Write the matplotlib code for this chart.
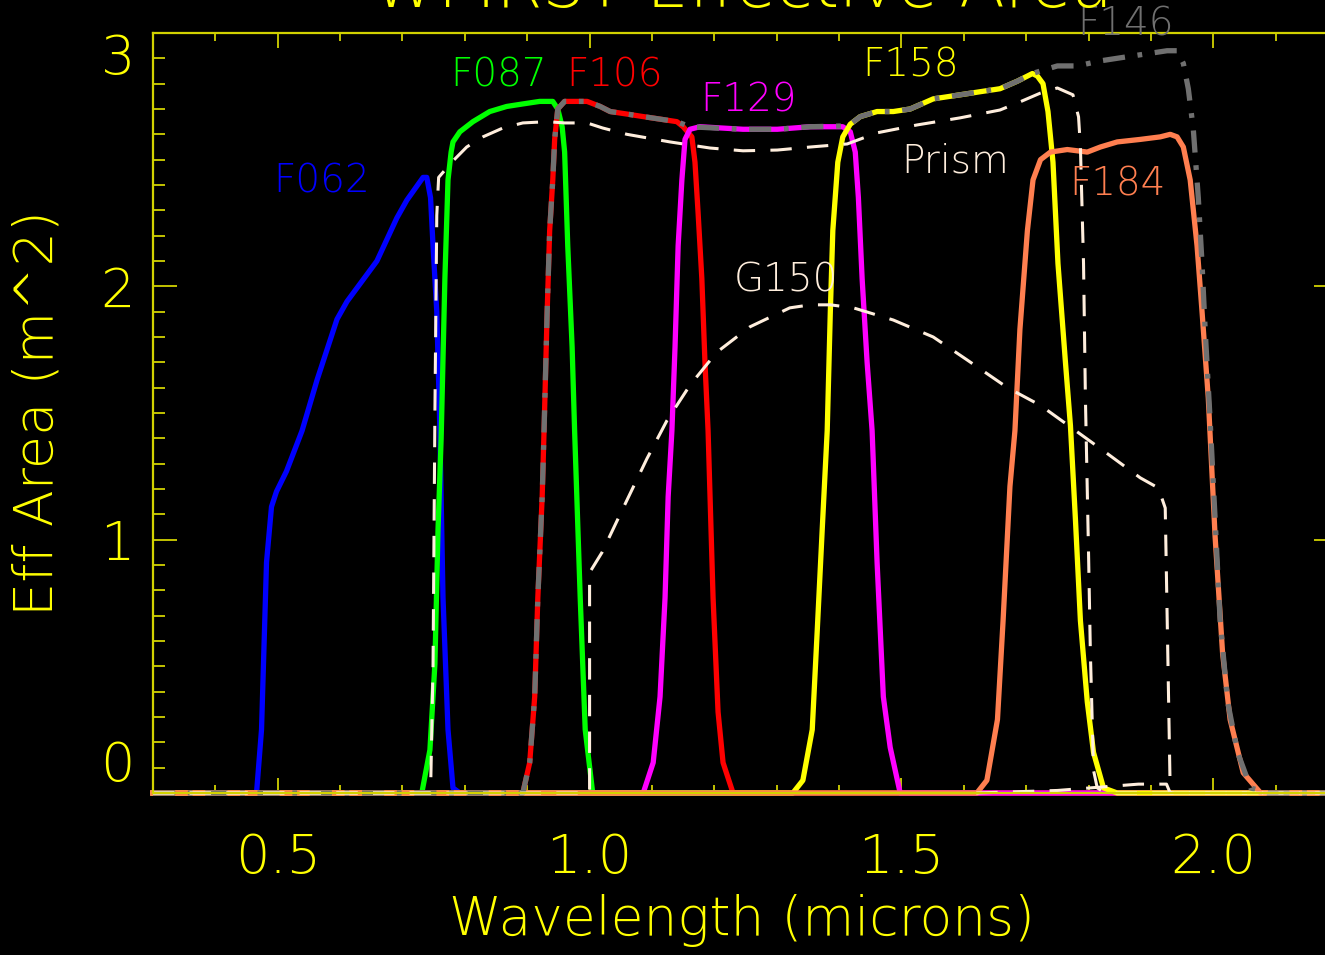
import matplotlib
matplotlib.use("Agg")
import matplotlib.pyplot as plt
from matplotlib.ticker import MultipleLocator

# -------- DATA -------- #
f062_wl = [0.466, 0.474, 0.482, 0.490, 0.498, 0.514, 0.539, 0.563, 0.595, 0.611, 0.644, 0.659,
           0.691, 0.707, 0.733, 0.739, 0.745, 0.749, 0.755, 0.760, 0.765, 0.773, 0.781, 0.792]
f062_ea = [0.0, 0.25, 0.91, 1.13, 1.19, 1.27, 1.43, 1.63, 1.87, 1.94, 2.05, 2.10,
           2.27, 2.34, 2.43, 2.43, 2.35, 2.16, 1.90, 1.43, 0.77, 0.25, 0.02, 0.0]

f087_wl = [0.731, 0.744, 0.752, 0.757, 0.762, 0.768, 0.773, 0.778, 0.781, 0.792, 0.813, 0.840,
           0.867, 0.893, 0.920, 0.941, 0.949, 0.956, 0.960, 0.965, 0.972, 0.976, 0.985, 0.993, 1.005]
f087_ea = [0.0, 0.17, 0.51, 1.04, 1.40, 2.03, 2.42, 2.53, 2.57, 2.61, 2.65, 2.69,
           2.71, 2.72, 2.73, 2.73, 2.70, 2.63, 2.53, 2.16, 1.76, 1.43, 0.77, 0.25, 0.0]

f106_wl = [0.893, 0.904, 0.912, 0.917, 0.924, 0.927, 0.932, 0.936, 0.941, 0.944, 0.949, 0.960,
           0.973, 0.996, 1.017, 1.033, 1.060, 1.086, 1.113, 1.140, 1.150, 1.164, 1.169, 1.174,
           1.180, 1.185, 1.190, 1.198, 1.206, 1.214, 1.230]
f106_ea = [0.0, 0.12, 0.38, 0.77, 1.17, 1.43, 1.90, 2.22, 2.42, 2.58, 2.70, 2.73,
           2.73, 2.73, 2.71, 2.69, 2.68, 2.67, 2.66, 2.65, 2.63, 2.59, 2.49, 2.29,
           2.03, 1.70, 1.43, 0.77, 0.32, 0.12, 0.0]

f129_wl = [1.086, 1.102, 1.113, 1.121, 1.126, 1.132, 1.137, 1.142, 1.148, 1.153, 1.161, 1.177,
           1.246, 1.301, 1.354, 1.406, 1.418, 1.426, 1.431, 1.437, 1.445, 1.453, 1.461, 1.471,
           1.482, 1.498]
f129_ea = [0.0, 0.12, 0.38, 0.77, 1.17, 1.43, 1.76, 2.16, 2.42, 2.58, 2.62, 2.63,
           2.62, 2.62, 2.63, 2.63, 2.61, 2.53, 2.35, 2.03, 1.70, 1.43, 0.91, 0.38,
           0.18, 0.0]

f158_wl = [1.326, 1.342, 1.357, 1.365, 1.373, 1.381, 1.386, 1.390, 1.398, 1.406, 1.418, 1.434,
           1.461, 1.487, 1.514, 1.551, 1.578, 1.631, 1.658, 1.686, 1.710, 1.718, 1.727, 1.735,
           1.743, 1.751, 1.763, 1.771, 1.779, 1.787, 1.798, 1.808, 1.824, 1.846]
f158_ea = [0.0, 0.05, 0.25, 0.64, 1.04, 1.43, 1.90, 2.22, 2.49, 2.59, 2.64, 2.67,
           2.69, 2.69, 2.70, 2.74, 2.75, 2.77, 2.78, 2.81, 2.84, 2.83, 2.80, 2.69,
           2.49, 2.09, 1.70, 1.45, 1.08, 0.68, 0.36, 0.16, 0.02, 0.0]

f184_wl = [1.621, 1.637, 1.654, 1.663, 1.674, 1.682, 1.690, 1.702, 1.711, 1.723, 1.739, 1.766,
           1.798, 1.819, 1.846, 1.883, 1.915, 1.931, 1.942, 1.952, 1.963, 1.974, 1.982, 1.992,
           1.995, 2.003, 2.015, 2.027, 2.048, 2.076]
f184_ea = [0.0, 0.05, 0.29, 0.68, 1.21, 1.43, 1.83, 2.22, 2.42, 2.50, 2.53, 2.54,
           2.53, 2.55, 2.57, 2.58, 2.59, 2.60, 2.59, 2.55, 2.42, 2.16, 1.90, 1.56,
           1.41, 1.01, 0.55, 0.29, 0.08, 0.0]

f146_wl = [0.893, 0.904, 0.912, 0.917, 0.924, 0.927, 0.932, 0.936, 0.941, 0.944, 0.949, 0.960,
           0.973, 0.996, 1.017, 1.033, 1.060, 1.086, 1.113, 1.140, 1.161, 1.200, 1.246, 1.301,
           1.354, 1.406, 1.418, 1.434, 1.461, 1.487, 1.514, 1.551, 1.578, 1.631, 1.658, 1.686,
           1.710, 1.723, 1.750, 1.782, 1.819, 1.872, 1.926, 1.942, 1.952, 1.960, 1.968, 1.976,
           1.982, 1.987, 1.995, 2.003, 2.011, 2.023, 2.039, 2.060, 2.087]
f146_ea = [0.0, 0.12, 0.38, 0.77, 1.17, 1.43, 1.90, 2.22, 2.42, 2.58, 2.70, 2.73,
           2.73, 2.73, 2.71, 2.69, 2.68, 2.67, 2.66, 2.65, 2.63, 2.625, 2.62, 2.62,
           2.63, 2.633, 2.64, 2.67, 2.69, 2.69, 2.70, 2.74, 2.75, 2.77, 2.78, 2.81,
           2.84, 2.85, 2.87, 2.87, 2.89, 2.91, 2.93, 2.93, 2.88, 2.78, 2.62, 2.35,
           2.09, 1.83, 1.47, 1.08, 0.68, 0.36, 0.16, 0.02, 0.0]

prism_wl = [0.745, 0.749, 0.752, 0.755, 0.758, 0.779, 0.803, 0.829, 0.861, 0.893, 0.932, 0.960,
            0.996, 1.021, 1.060, 1.129, 1.193, 1.246, 1.301, 1.354, 1.413, 1.461, 1.525, 1.594,
            1.658, 1.690, 1.723, 1.750, 1.775, 1.784, 1.787, 1.792, 1.795, 1.800, 1.803, 1.808,
            1.814, 1.827]
prism_ea = [0.0, 0.5, 1.5, 2.28, 2.43, 2.49, 2.55, 2.59, 2.625, 2.645, 2.65, 2.645,
            2.645, 2.625, 2.60, 2.57, 2.546, 2.535, 2.538, 2.55, 2.562, 2.606, 2.637, 2.665,
            2.696, 2.728, 2.763, 2.783, 2.756, 2.669, 2.55, 2.09, 1.56, 0.95, 0.55, 0.09,
            0.02, 0.0]

g150_wl = [1.000, 1.000, 1.020, 1.049, 1.092, 1.124, 1.161, 1.204, 1.257, 1.321, 1.354, 1.386,
           1.423, 1.487, 1.551, 1.605, 1.670, 1.723, 1.771, 1.830, 1.883, 1.912, 1.923, 1.931]
g150_ea = [0.0, 0.87, 0.95, 1.10, 1.32, 1.47, 1.61, 1.74, 1.84, 1.915, 1.927, 1.927,
           1.915, 1.867, 1.80, 1.71, 1.60, 1.53, 1.445, 1.34, 1.244, 1.204, 1.125, 0.0]

tail_wl = [1.62, 1.75, 1.88, 1.925, 1.931]
tail_ea = [0.0, 0.01, 0.035, 0.035, 0.0]

X_MIN, X_MAX = 0.3, 2.2

YELLOW = '#FFFF00'
AXCOL = '#D2D200'
CREAM = '#FFEEDD'
GRAY = '#707070'
CORAL = '#FF7F50'

plt.rcParams['font.family'] = ['DejaVu Sans']
plt.rcParams['font.weight'] = 'light'


def pad_zero(wl, ea):
    # every curve runs along zero over the whole plotted range
    return [X_MIN] + wl + [X_MAX], [0.0] + ea + [0.0]


fig = plt.figure(figsize=(13.25, 9.55), dpi=100, facecolor='black')
ax = fig.add_axes([153 / 1325, 1 - 793 / 955, (1338 - 153) / 1325, (793 - 33) / 955])
ax.set_facecolor('black')

solid = [(f062_wl, f062_ea, '#0000FF'),
         (f087_wl, f087_ea, '#00FF00'),
         (f106_wl, f106_ea, '#FF0000'),
         (f129_wl, f129_ea, '#FF00FF'),
         (f158_wl, f158_ea, YELLOW),
         (f184_wl, f184_ea, CORAL)]
for wl, ea, col in solid:
    x, y = pad_zero(wl, ea)
    ax.plot(x, y, color=col, lw=3.8, clip_on=False, solid_joinstyle='round')

x, y = pad_zero(f146_wl, f146_ea)
ax.plot(x, y, color=GRAY, lw=3.8, dashes=(4.2, 2.4, 0.9, 2.4), clip_on=False)

x, y = pad_zero(prism_wl, prism_ea)
ax.plot(x, y, color=CREAM, lw=2.2, dashes=(7, 5), clip_on=False)
x, y = pad_zero(g150_wl, g150_ea)
ax.plot(x, y, color=CREAM, lw=2.2, dashes=(7, 5), clip_on=False)
ax.plot(tail_wl, tail_ea, color=CREAM, lw=2.2, dashes=(7, 5), clip_on=False)

# -------- labels on the curves -------- #
lab_kw = dict(fontsize=28, va='baseline', ha='left')
ax.text(0.493, 2.37, 'F062', color='#0000FF', **lab_kw)
ax.text(0.777, 2.79, 'F087', color='#00FF00', **lab_kw)
ax.text(0.963, 2.79, 'F106', color='#FF0000', **lab_kw)
ax.text(1.178, 2.69, 'F129', color='#FF00FF', **lab_kw)
ax.text(1.437, 2.83, 'F158', color=YELLOW, **lab_kw)
ax.text(1.782, 2.99, 'F146', color=GRAY, **lab_kw)
ax.text(1.499, 2.45, 'Prism', color=CREAM, **lab_kw)
ax.text(1.769, 2.36, 'F184', color=CORAL, **lab_kw)
ax.text(1.231, 1.98, 'G150', color=CREAM, **lab_kw)

# -------- axes -------- #
ax.set_xlim(X_MIN, X_MAX)
ax.set_ylim(0, 3)
for sp in ax.spines.values():
    sp.set_color(AXCOL)
    sp.set_linewidth(1.6)

ax.set_xticks([0.5, 1.0, 1.5, 2.0])
ax.set_xticklabels(['0.5', '1.0', '1.5', '2.0'])
ax.xaxis.set_minor_locator(MultipleLocator(0.1))
ax.set_yticks([0, 1, 2, 3])
ax.set_yticklabels(['0', '1', '2', '3'])
ax.yaxis.set_minor_locator(MultipleLocator(0.1))

ax.tick_params(axis='x', which='major', direction='in', length=11, width=1.3,
               color=AXCOL, labelcolor=YELLOW, labelsize=39, pad=28, top=True)
ax.tick_params(axis='x', which='minor', direction='in', length=5.5, width=1.3,
               color=AXCOL, top=True)
ax.tick_params(axis='y', which='major', direction='in', length=17, width=1.3,
               color=AXCOL, labelcolor=YELLOW, labelsize=39, pad=13, right=True)
ax.tick_params(axis='y', which='minor', direction='in', length=8.5, width=1.3,
               color=AXCOL, right=True)

yt = ax.yaxis.get_major_ticks()
yt[0].label1.set_va('bottom')
yt[-1].label1.set_va('top')

fig.text(742 / 1325, 1 - 920 / 955, 'Wavelength (microns)', color=YELLOW,
         fontsize=38.5, ha='center', va='center')
fig.text(38 / 1325, 1 - 413 / 955, 'Eff Area (m^2)', color=YELLOW,
         fontsize=39, ha='center', va='center', rotation=90)
fig.text(742 / 1325, 1 - 7 / 955, 'WFIRST Effective Area', color=YELLOW,
         fontsize=48, ha='center', va='baseline')

fig.savefig('out.png', dpi=100, facecolor='black')
